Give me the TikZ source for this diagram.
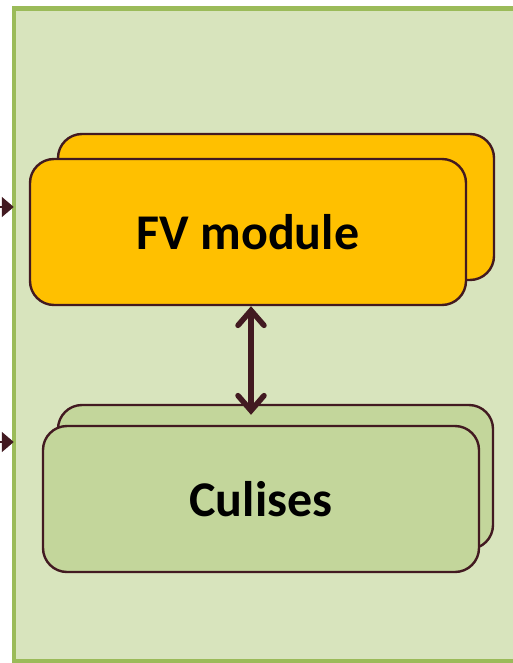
\documentclass[tikz,border=0pt]{standalone}
\usepackage{fontspec}
\setmainfont{Carlito}
\usetikzlibrary{positioning, arrows.meta}
\definecolor{panelbg}{HTML}{D8E4BD}
\definecolor{panelline}{HTML}{9BBB59}
\definecolor{gold}{HTML}{FFC000}
\definecolor{sage}{HTML}{C3D69B}
\definecolor{plum}{HTML}{421A21}
\tikzset{
  panel/.style={draw=panelline, line width=4.5pt, fill=panelbg,
                inner sep=0pt, outer sep=0pt},
  modbox/.style={draw=plum, line width=2.4pt, rounded corners=24pt,
                 minimum width=436pt, minimum height=146pt, inner sep=0pt,
                 font=\fontsize{50}{60}\selectfont\bfseries},
  link/.style={{Straight Barb[length=15pt, width=26pt, line cap=round]}-{Straight Barb[length=15pt, width=26pt, line cap=round]},
               line width=5.5pt, draw=plum},
  feed/.style={-{Triangle[length=12pt, width=20pt]}, line width=2pt, draw=plum},
}
\begin{document}
\begin{tikzpicture}[x=1pt, y=-1pt]
  \useasboundingbox (0,0) rectangle (512,663);
  % the green panel
  \node[panel, minimum width=530pt, minimum height=653pt] (frame) at (278.75,335) {};
  % incoming lines from the left
  \coordinate (inA) at (-40,207);
  \coordinate (inB) at (-40,442);
  \draw[feed] (inA) -- (inA -| frame.west);
  \draw[feed] (inB) -- (inB -| frame.west);
  % FV module, stacked
  \node[modbox, fill=gold] (fvback) at (276,207) {};
  \node[modbox, fill=gold] (fv) at (248,232) {FV module};
  % Culises, stacked
  \node[modbox, fill=sage, minimum width=435pt, minimum height=144pt] (culback) at (275.5,477) {};
  \node[modbox, fill=sage] (cul) at (261,499) {Culises};
  % link between them
  \draw[link, shorten >=10pt] ([xshift=3pt]fv.south) -- ([xshift=3pt]fv.south |- cul.north);
\end{tikzpicture}
\end{document}
